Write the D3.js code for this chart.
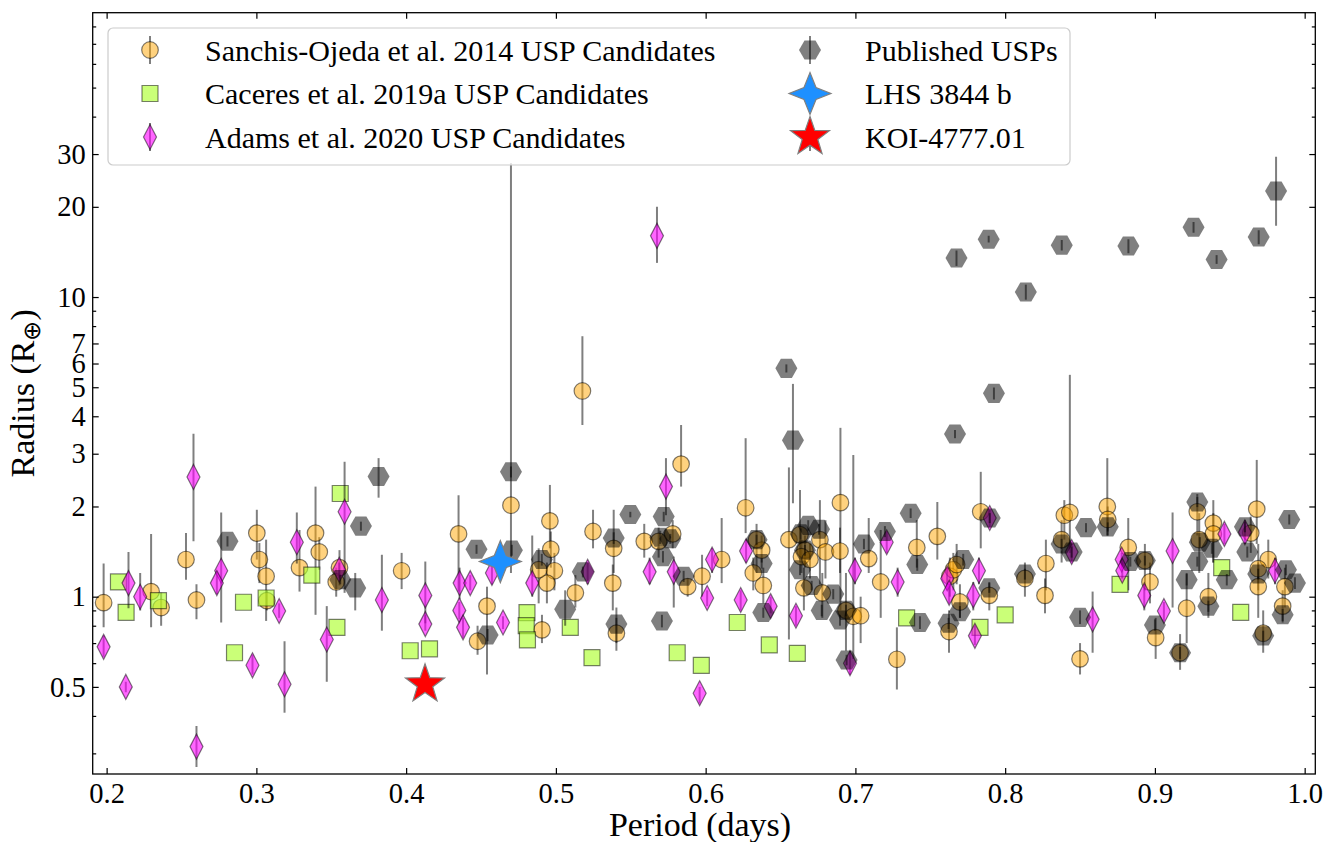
<!DOCTYPE html>
<html><head><meta charset="utf-8">
<script src="https://cdn.jsdelivr.net/npm/d3@7"></script>
<style>body{margin:0;background:#fff}svg{display:block}</style>
</head><body>
<svg id="chart" width="1335" height="842"></svg>
<script>
// ---- DATA: [period (days), radius (R_earth), radius lower bound, radius upper bound]
const sanchis = [
[0.198,0.955,0.79,1.29],[0.2297,1.04,0.79,1.62],[0.2364,0.92,0.80,1.03],[0.253,1.33,1.14,1.63],
[0.260,0.975,0.84,1.10],[0.3003,1.63,1.33,1.95],[0.302,1.33,1.11,1.51],[0.3065,1.17,0.83,1.55],
[0.307,0.97,0.90,1.05],[0.3288,1.25,1.04,1.67],[0.3395,1.63,0.87,2.33],[0.342,1.41,1.23,1.58],
[0.3555,1.25,1.09,1.43],[0.3533,1.12,1.0,1.25],[0.397,1.22,1.06,1.40],[0.435,1.62,1.04,2.18],
[0.454,0.93,0.55,1.08],[0.4477,0.71,0.64,0.80],[0.470,2.02,1.2,28],[0.496,1.79,1.45,2.36],
[0.4966,1.44,1.25,1.65],[0.499,1.22,1.05,1.40],[0.494,1.11,0.95,1.30],[0.4885,1.23,0.95,1.45],
[0.4907,0.775,0.70,0.87],[0.513,1.03,0.92,1.18],[0.5177,4.86,3.74,7.4],[0.5248,1.65,1.45,1.95],
[0.5386,1.45,1.2,1.95],[0.538,1.11,0.9,1.28],[0.5404,0.755,0.66,0.85],[0.559,1.53,1.35,1.75],
[0.5686,1.53,1.35,1.70],[0.578,1.62,1.45,1.80],[0.5836,2.77,2.33,3.74],[0.588,1.08,1.0,1.15],
[0.5976,1.17,1.0,1.38],[0.6107,1.33,1.11,1.83],[0.6267,1.98,1.63,3.38],[0.6318,1.20,1.05,1.35],
[0.6385,1.09,0.95,1.25],[0.6374,1.43,1.3,1.6],[0.634,1.55,1.2,1.75],[0.6556,1.55,0.72,2.7],
[0.663,1.61,1.3,2.27],[0.6663,1.43,1.25,1.6],[0.664,1.36,1.2,1.55],[0.6697,1.33,1.15,1.5],
[0.6656,1.07,0.9,1.25],[0.6763,1.55,1.1,2.1],[0.680,1.41,1.15,1.8],[0.6779,1.03,0.85,1.2],
[0.690,2.06,0.9,3.66],[0.6897,1.42,1.2,1.7],[0.6937,0.90,0.66,1.2],[0.6986,0.86,0.62,2.97],
[0.7035,0.864,0.7,1.0],[0.7089,1.34,1.2,1.83],[0.7169,1.12,0.85,1.67],[0.7277,0.618,0.49,0.79],
[0.741,1.46,1.25,1.8],[0.7547,1.59,1.33,2.07],[0.7625,0.765,0.65,0.9],[0.7631,1.17,1.0,1.35],
[0.7654,1.23,1.05,1.4],[0.7676,1.28,1.1,1.5],[0.7698,0.96,0.85,1.1],[0.7837,1.92,1.45,2.61],
[0.7894,1.01,0.9,1.12],[0.8132,1.15,1.0,1.3],[0.8272,1.29,1.05,1.55],[0.8266,1.01,0.88,1.15],
[0.8395,1.87,1.55,2.1],[0.8432,1.91,1.4,5.5],[0.8377,1.55,1.3,1.8],[0.850,0.62,0.55,0.7],
[0.8682,2.0,1.6,2.9],[0.8685,1.81,1.6,2.0],[0.8822,1.46,1.05,1.83],[0.8933,1.32,1.05,1.5],
[0.8967,1.12,0.95,1.3],[0.9005,0.73,0.62,0.85],[0.9212,0.915,0.7,1.2],[0.9168,0.65,0.57,0.75],
[0.9283,1.92,1.6,2.2],[0.9296,1.55,1.2,1.9],[0.939,1.76,1.3,2.1],[0.939,1.62,1.3,1.9],
[0.9357,1.0,0.85,1.2],[0.964,1.63,1.4,1.85],[0.968,1.96,1.5,2.86],[0.9757,1.33,1.15,1.55],
[0.969,1.24,1.05,1.5],[0.969,1.08,0.85,1.3],[0.9723,0.755,0.65,0.9],[0.9868,1.08,0.92,1.25],
[0.9853,0.93,0.82,1.05]
];
const caceres = [
[0.2079,1.12],[0.213,0.887],[0.2346,0.97],[0.2854,0.65],[0.2914,0.958],[0.3065,0.99],[0.337,1.18],
[0.3538,0.79],[0.356,2.21],[0.4027,0.66],[0.4156,0.67],[0.4807,0.885],[0.4802,0.80],[0.481,0.717],
[0.5096,0.79],[0.5241,0.626],[0.581,0.65],[0.5971,0.59],[0.6211,0.82],[0.6425,0.69],[0.6612,0.647],
[0.7342,0.85],[0.7832,0.79],[0.80,0.87],[0.8767,1.10],[0.9446,1.25],[0.9573,0.887]
];
const adams = [
[0.198,0.68,0.63,0.74],[0.2146,1.11,0.915,1.41],[0.2128,0.50,0.48,0.52],[0.2224,1.0,0.9,1.2],
[0.258,2.51,1.53,3.5],[0.260,0.316,0.27,0.37],[0.2765,1.22,0.82,1.91],[0.2736,1.11,1.02,1.2],
[0.2974,0.59,0.55,0.64],[0.3188,0.51,0.41,0.71],[0.3152,0.896,0.85,0.95],[0.327,1.52,1.29,1.91],
[0.347,0.72,0.52,0.93],[0.3589,1.92,1.03,2.82],[0.3553,1.23,1.15,1.3],[0.3838,0.975,0.77,1.38],
[0.4128,1.01,0.815,1.31],[0.4128,0.81,0.77,0.87],[0.4357,1.11,0.98,1.25],[0.4428,1.11,1.05,1.18],
[0.4355,0.90,0.84,0.96],[0.438,0.79,0.73,0.85],[0.4573,1.2,1.1,1.3],[0.4647,0.82,0.78,0.86],
[0.4842,1.11,1.0,1.6],[0.5212,1.21,1.1,1.3],[0.5735,2.33,1.87,2.9],[0.5626,1.21,1.1,1.35],
[0.5787,1.21,0.92,1.36],[0.601,0.99,0.93,1.05],[0.6043,1.33,1.2,1.45],[0.596,0.476,0.44,0.5],
[0.627,1.42,1.3,1.55],[0.6234,0.975,0.9,1.05],[0.6434,0.93,0.88,1.0],[0.6603,0.864,0.8,0.93],
[0.6997,1.22,1.1,1.35],[0.7209,1.52,1.4,1.65],[0.7282,1.12,1.0,1.25],[0.6964,0.60,0.55,0.66],
[0.7613,1.15,1.05,1.25],[0.7626,1.03,0.95,1.1],[0.7825,1.22,1.1,1.35],[0.7787,1.01,0.9,1.12],
[0.7798,0.74,0.69,0.8],[0.7897,1.83,1.7,1.95],[0.8444,1.41,1.3,1.5],[0.8584,0.84,0.65,1.04],
[0.8778,1.33,1.25,1.4],[0.8782,1.22,1.15,1.3],[0.8929,1.01,0.9,1.1],[0.906,0.896,0.83,0.96],
[0.9118,1.42,0.92,1.91],[0.9464,1.62,1.5,1.75],[0.9601,1.64,1.5,1.8],[0.9802,1.22,1.1,1.35],
[0.5675,16.0,13.0,20.0]
];
const published = [
[0.2807,1.53,1.47,1.59],[0.3816,2.52,2.14,2.9],[0.3698,1.72,1.66,1.78],[0.366,1.07,0.9,1.2],
[0.356,1.14,1.1,1.18],[0.447,1.44,1.39,1.49],[0.4544,0.745,0.71,0.78],[0.470,2.61,2.5,2.72],
[0.4706,1.43,1.37,1.49],[0.4906,1.33,1.27,1.39],[0.5062,0.908,0.8,1.05],[0.518,1.21,1.16,1.26],
[0.5386,1.57,1.5,1.64],[0.5404,0.81,0.7,0.92],[0.5497,1.88,1.84,1.92],[0.572,1.85,1.78,1.92],
[0.5697,1.58,1.5,1.66],[0.5715,1.36,1.3,1.42],[0.5764,1.56,1.5,1.62],[0.5853,1.17,1.12,1.22],
[0.5708,0.83,0.79,0.87],[0.6374,1.29,1.24,1.34],[0.6385,0.885,0.85,0.92],[0.634,1.55,1.49,1.61],
[0.6539,5.78,5.6,5.96],[0.6583,3.33,2.05,5.13],[0.6685,1.73,1.66,1.8],[0.6757,1.68,1.61,1.75],
[0.663,1.23,1.18,1.28],[0.6708,1.09,1.05,1.13],[0.6775,0.90,0.86,0.94],[0.6852,1.02,0.98,1.06],
[0.6897,0.836,0.8,0.87],[0.6941,0.615,0.59,0.64],[0.7057,1.5,1.44,1.56],[0.7197,1.65,1.58,1.72],
[0.7369,1.9,1.83,1.97],[0.7413,1.28,1.22,1.34],[0.7431,0.82,0.78,0.86],[0.7622,0.815,0.78,0.85],
[0.772,1.33,1.27,1.39],[0.7698,0.89,0.85,0.93],[0.7894,1.07,1.03,1.11],[0.7897,1.83,1.76,1.9],
[0.6635,1.62,1.55,1.69],[0.6663,1.43,1.37,1.49],[0.6937,0.9,0.86,0.94],[0.93,1.52,1.46,1.58],
[0.7665,3.49,3.38,3.6],[0.7675,13.5,12.7,14.3],[0.789,15.6,15.2,16.0],[0.7925,4.77,4.55,4.99],
[0.8138,10.4,9.8,11.0],[0.8378,14.9,14.3,15.5],[0.8823,14.8,14.0,15.6],[0.9258,17.1,16.4,17.8],
[0.9412,13.35,12.9,13.8],[0.9693,15.85,15.0,16.7],[0.9809,22.6,17.3,29.4],[0.8132,1.19,1.14,1.24],
[0.854,1.70,1.64,1.76],[0.8685,1.71,1.65,1.77],[0.85,0.853,0.81,0.9],[0.8377,1.5,1.44,1.56],
[0.8444,1.41,1.35,1.47],[0.8836,1.31,1.26,1.36],[0.8933,1.32,1.27,1.37],[0.9,0.804,0.77,0.84],
[0.9168,0.65,0.62,0.68],[0.9212,1.14,1.09,1.19],[0.9283,2.07,1.99,2.15],[0.9283,1.31,1.26,1.36],
[0.9357,0.93,0.89,0.97],[0.938,1.45,1.39,1.51],[0.948,1.14,1.09,1.19],[0.9601,1.71,1.64,1.78],
[0.9617,1.41,1.35,1.47],[0.969,1.19,1.14,1.24],[0.9723,0.74,0.71,0.77],[0.9875,1.23,1.18,1.28],
[0.9897,1.81,1.74,1.88],[0.9935,1.11,1.06,1.16],[0.9853,0.87,0.83,0.91]
];
const lhs3844b = [[0.4629,1.31,1.28,1.34]];
const koi4777 = [[0.4126,0.51,0.49,0.53]];

const xTicks = [0.2,0.3,0.4,0.5,0.6,0.7,0.8,0.9,1.0];
const yTicksMajor = [0.5,1,2,3,4,5,6,7,10,20,30];
const yTickLabels = ["0.5","1","2","3","4","5","6","7","10","20","30"];
const yTicksMinor = [0.3,0.4,0.6,0.7,0.8,0.9,8,9,40,50,60,70,80];
const xDomain = [0.1907, 1.0071];
const yDomain = [0.256, 88.9];

const legendItems = [
  {label:"Sanchis-Ojeda et al. 2014 USP Candidates", key:"sanchis", col:0, row:0},
  {label:"Caceres et al. 2019a USP Candidates", key:"caceres", col:0, row:1},
  {label:"Adams et al. 2020 USP Candidates", key:"adams", col:0, row:2},
  {label:"Published USPs", key:"published", col:1, row:0},
  {label:"LHS 3844 b", key:"lhs", col:1, row:1},
  {label:"KOI-4777.01", key:"koi", col:1, row:2}
];

// ---- LAYOUT
const FONT = "'Liberation Serif','Times New Roman',serif";
const L = 92.7, R = 1315.3, T = 12.7, B = 774;
const svg = d3.select("#chart");
const x = d3.scaleLinear().domain(xDomain).range([L, R]);
const y = d3.scaleLog().domain(yDomain).range([B, T]);

// marker shapes
const hexPath = (r) => { const p=[]; for(let i=0;i<6;i++){const a=Math.PI/3*i; p.push([r*Math.cos(a), r*Math.sin(a)]);} return "M"+p.map(d=>d.join(",")).join("L")+"Z"; };
const diamondPath = (w,h) => `M0,${-h/2}L${w/2},0L0,${h/2}L${-w/2},0Z`;
const starPath = (n, ro, ri) => { const p=[]; for(let i=0;i<2*n;i++){const a=-Math.PI/2+Math.PI/n*i; const r=i%2?ri:ro; p.push([r*Math.cos(a), r*Math.sin(a)]);} return "M"+p.map(d=>d.map(v=>v.toFixed(2)).join(",")).join("L")+"Z"; };

const styles = {
  sanchis:{shape:"circle", fill:"orange", fo:0.5, stroke:"#000", so:0.5, sw:1.2},
  caceres:{path:"M-8,-8H8V8H-8Z", fill:"greenyellow", fo:0.65, stroke:"#000", so:0.5, sw:1.2},
  adams:{path:diamondPath(13,25), fill:"magenta", fo:0.6, stroke:"#000", so:0.5, sw:1.2},
  published:{path:hexPath(11), fill:"#000", fo:0.5, stroke:"#000", so:0.0, sw:0},
  lhs:{path:starPath(4,21,8.5), fill:"dodgerblue", fo:1, stroke:"#808080", so:1, sw:1.2},
  koi:{path:starPath(5,20.5,8.2), fill:"red", fo:1, stroke:"#808080", so:1, sw:1.2}
};

function drawMarker(g, st, cx, cy){
  let m;
  if(st.shape==="circle") m = g.append("circle").attr("cx",cx).attr("cy",cy).attr("r",8.3);
  else m = g.append("path").attr("d",st.path).attr("transform",`translate(${cx},${cy})`);
  m.attr("fill",st.fill).attr("fill-opacity",st.fo)
   .attr("stroke",st.stroke).attr("stroke-opacity",st.so).attr("stroke-width",st.sw);
  return m;
}

svg.append("defs").append("clipPath").attr("id","clip")
  .append("rect").attr("x",L).attr("y",T).attr("width",R-L).attr("height",B-T);
const plot = svg.append("g").attr("clip-path","url(#clip)");

function drawSeries(data, key, withErr){
  const g = plot.append("g");
  if(withErr){
    g.selectAll("line.err").data(data).join("line").attr("class","err")
      .attr("x1",d=>x(d[0])).attr("x2",d=>x(d[0]))
      .attr("y1",d=>y(d[2])).attr("y2",d=>y(d[3]))
      .attr("stroke","#000").attr("stroke-opacity",0.5).attr("stroke-width",2);
  }
  data.forEach(d=>drawMarker(g, styles[key], x(d[0]), y(d[1])));
}
drawSeries(sanchis,"sanchis",true);
drawSeries(caceres,"caceres",false);
drawSeries(adams,"adams",true);
drawSeries(published,"published",true);
drawSeries(lhs3844b,"lhs",false);
drawSeries(koi4777,"koi",true);

// ---- AXES
const axG = svg.append("g");
function styleAxis(sel){ sel.attr("font-family",FONT); sel.select(".domain").remove(); sel.selectAll("line").attr("stroke","#000").attr("stroke-width",1.2); sel.selectAll("text").style("font-family",FONT).attr("font-size",28.5).attr("fill","#000"); }

axG.append("g").attr("transform",`translate(0,${B})`)
  .call(d3.axisBottom(x).tickValues(xTicks).tickFormat(d3.format(".1f")).tickSize(-6).tickSizeOuter(0).tickPadding(8.5)).call(styleAxis);
axG.append("g").attr("transform",`translate(0,${T})`)
  .call(d3.axisTop(x).tickValues(xTicks).tickFormat("").tickSize(-6).tickSizeOuter(0)).call(styleAxis);
axG.append("g").attr("transform",`translate(${L},0)`)
  .call(d3.axisLeft(y).tickValues(yTicksMajor).tickFormat((d,i)=>yTickLabels[i]).tickSize(-6).tickSizeOuter(0).tickPadding(7)).call(styleAxis);
axG.append("g").attr("transform",`translate(${L},0)`)
  .call(d3.axisLeft(y).tickValues(yTicksMinor).tickFormat("").tickSize(-3.5).tickSizeOuter(0)).call(styleAxis);
axG.append("g").attr("transform",`translate(${R},0)`)
  .call(d3.axisRight(y).tickValues(yTicksMajor).tickFormat("").tickSize(-6).tickSizeOuter(0)).call(styleAxis);
axG.append("g").attr("transform",`translate(${R},0)`)
  .call(d3.axisRight(y).tickValues(yTicksMinor).tickFormat("").tickSize(-3.5).tickSizeOuter(0)).call(styleAxis);

svg.append("rect").attr("x",L).attr("y",T).attr("width",R-L).attr("height",B-T)
  .attr("fill","none").attr("stroke","#000").attr("stroke-width",1.3);

// axis labels
svg.append("text").attr("x",700).attr("y",836).attr("text-anchor","middle")
  .style("font-family",FONT).attr("font-size",34).text("Period (days)");
const yl = svg.append("text").attr("transform",`translate(34,${(T+B)/2}) rotate(-90)`)
  .attr("text-anchor","middle").style("font-family",FONT).attr("font-size",34);
yl.append("tspan").text("Radius (R");
yl.append("tspan").attr("font-size",24).attr("dy",6).text("\u2295");
yl.append("tspan").attr("dy",-6).text(")");

// ---- LEGEND
const lg = svg.append("g");
lg.append("rect").attr("x",108).attr("y",28).attr("width",962).attr("height",137).attr("rx",5)
  .attr("fill","#fff").attr("fill-opacity",0.8).attr("stroke","#cccccc").attr("stroke-width",1.2);
const rowY = [50, 93.5, 137], markX = [150, 810], textX = [205, 865];
legendItems.forEach(it=>{
  const cx = markX[it.col], cy = rowY[it.row];
  const st = styles[it.key];
  if(it.key!=="caceres" && it.key!=="lhs"){
    lg.append("line").attr("x1",cx).attr("x2",cx).attr("y1",cy-14).attr("y2",cy+14)
      .attr("stroke","#000").attr("stroke-opacity",0.5).attr("stroke-width",2);
  }
  drawMarker(lg, st, cx, cy);
  lg.append("text").attr("x",textX[it.col]).attr("y",cy).attr("dy","0.35em")
    .style("font-family",FONT).attr("font-size",30).text(it.label);
});
</script>
</body></html>
